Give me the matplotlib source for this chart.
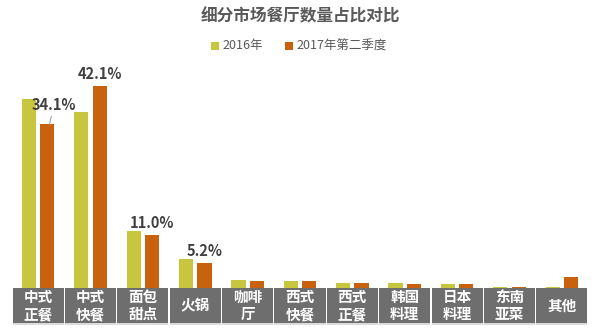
import matplotlib
matplotlib.use("Agg")
import matplotlib.pyplot as plt
from matplotlib.patches import Rectangle
import matplotlib.transforms as mtransforms
import numpy as np

plt.rcParams['font.family'] = ['Noto Sans CJK SC', 'DejaVu Sans']

title = "细分市场餐厅数量占比对比"
categories = ["中式\n正餐", "中式\n快餐", "面包\n甜点", "火锅", "咖啡\n厅", "西式\n快餐",
              "西式\n正餐", "韩国\n料理", "日本\n料理", "东南\n亚菜", "其他"]
series_names = ["2016年", "2017年第二季度"]
v2016 = [39.4, 36.7, 11.9, 6.0, 1.7, 1.5, 1.1, 1.0, 0.8, 0.2, 0.2]
v2017 = [34.1, 42.1, 11.0, 5.2, 1.4, 1.5, 1.1, 0.8, 0.8, 0.2, 2.3]
labels2017 = {0: "34.1%", 1: "42.1%", 2: "11.0%", 3: "5.2%"}

c2016 = "#c8c53e"
c2017 = "#c8620f"
band_color = "#6e6e6e"
text_gray = "#595959"

W, H = 600, 334
fig = plt.figure(figsize=(6, 3.34), dpi=100)
ax = fig.add_axes([12 / W, 46 / H, 576 / W, 228 / H])
ax.set_xlim(-0.5, len(categories) - 0.5)
ax.set_ylim(0, 228 / 4.8)
ax.axis('off')

x = np.arange(len(categories))
bw = 0.27
gap = 0.08
ax.bar(x - (bw + gap) / 2, v2016, bw, color=c2016)
ax.bar(x + (bw + gap) / 2, v2017, bw, color=c2017)

# labels on 2017 bars
for i, txt in labels2017.items():
    if i == 0:
        ax.annotate(txt, xy=(x[i] + (bw + gap) / 2 + 0.04, v2017[i]), xytext=(3.5, 14),
                    textcoords='offset points', ha='center', va='center',
                    fontsize=10.5, fontweight='bold', color='#404040',
                    arrowprops=dict(arrowstyle='-', color='#a0a0a0', lw=0.8,
                                    shrinkA=0.5, shrinkB=0, relpos=(0.45, 0.0)))
    else:
        ax.annotate(txt, xy=(x[i] + (bw + gap) / 2, v2017[i]), xytext=(0, 3),
                    textcoords='offset points', ha='center', va='bottom',
                    fontsize=10.5, fontweight='bold', color='#404040')

# gray category band
trans = mtransforms.blended_transform_factory(ax.transData, ax.transAxes)
band_h = 35 / 228
for i, cat in enumerate(categories):
    ax.add_patch(Rectangle((i - 0.5 + 0.012, -band_h - 0.008), 1 - 0.024, band_h,
                           transform=trans, facecolor='#dcdcdc', edgecolor='none',
                           clip_on=False, zorder=1))
    ax.add_patch(Rectangle((i - 0.5 + 0.012, -band_h), 1 - 0.024, band_h,
                           transform=trans, facecolor=band_color, edgecolor='none',
                           clip_on=False, zorder=2))
    ax.text(i, -band_h / 2, cat, transform=trans, ha='center', va='center',
            color='white', fontsize=10.5, fontweight='bold', linespacing=1.1,
            clip_on=False, zorder=3)

# title
fig.text(300 / W, 1 - 16 / H, title, ha='center', va='center',
         fontsize=12, fontweight='bold', color=text_gray)

# legend
leg_y = 1 - 46 / H
sq = 8
for name, col, xs in [(series_names[0], c2016, 211), (series_names[1], c2017, 285)]:
    fig.add_artist(Rectangle((xs / W, leg_y - (sq / 2) / H), sq / W, sq / H,
                             transform=fig.transFigure, facecolor=col, edgecolor='none'))
    fig.text((xs + sq + 3) / W, leg_y, name, ha='left', va='center',
             fontsize=9, color=text_gray)

fig.savefig("out.png", dpi=100, facecolor='white')
